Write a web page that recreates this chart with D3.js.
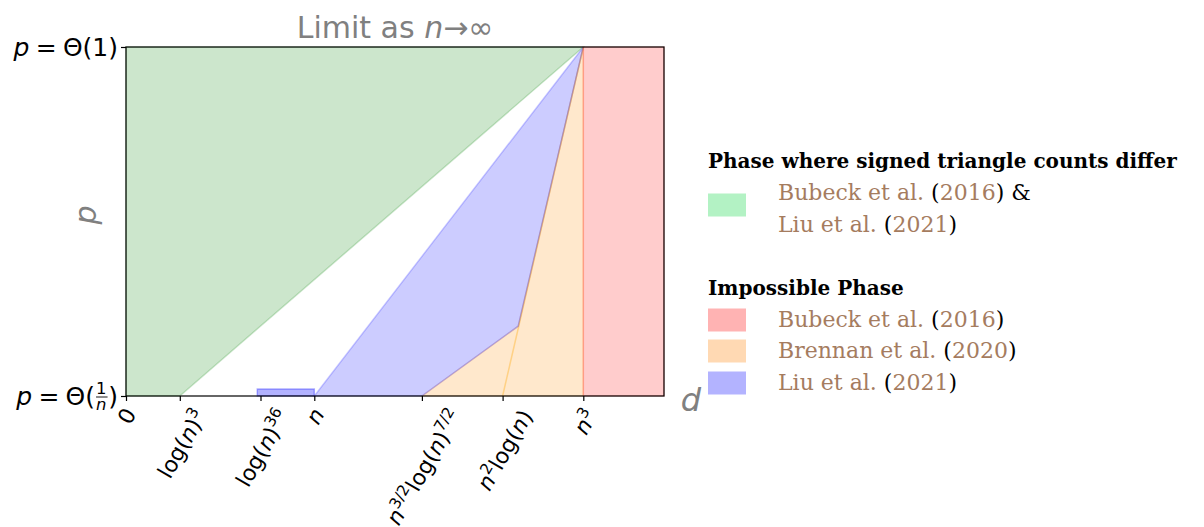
<!DOCTYPE html>
<html><head><meta charset="utf-8">
<script src="https://cdn.jsdelivr.net/npm/d3@7/dist/d3.min.js"></script>
<style>body{margin:0;background:#fff;} svg{display:block;}</style>
</head><body>
<svg id="c" width="1204" height="527"></svg>
<script>
// ---- data ----
const xTickPos = [0, 0.1, 0.25, 0.35, 0.55, 0.7, 0.85];
// tick label parts: [text, style] style: r=roman, i=italic, s=superscript
const xTickLabels = [
  [["0","r"]],
  [["log(","r"],["n","i"],[")","r"],["3","s"]],
  [["log(","r"],["n","i"],[")","r"],["36","s"]],
  [["n","i"]],
  [["n","i"],["3/2","s"],["log(","r"],["n","i"],[")","r"],["7/2","s"]],
  [["n","i"],["2","s"],["log(","r"],["n","i"],[")","r"]],
  [["n","i"],["3","s"]]
];
const yTickPos = [0, 1];
const greenRegion  = [[0,0],[0,1],[0.85,1],[0.1,0]];
const redRegion    = [[0.85,0],[0.85,1],[1,1],[1,0]];
const orangeRegion = [[0.55,0],[0.729,0.2],[0.85,1],[0.85,0]];
const orangeLine   = [[0.7,0],[0.85,1]];
const blueRegion   = [[0.35,0],[0.85,1],[0.729,0.2],[0.55,0]];
const blueStrip    = [[0.244,0],[0.244,0.02],[0.35,0.02],[0.35,0]];
const legendGroups = [
  {title:"Phase where signed triangle counts differ", entries:[
    {color:"#b3f2c4", lines:[[["Bubeck et al. ","b"],["(","k"],["2016","b"],[")","k"],[" &","k"]],[["Liu et al. ","b"],["(","k"],["2021","b"],[")","k"]]]}
  ]},
  {title:"Impossible Phase", entries:[
    {color:"#ffb3b3", lines:[[["Bubeck et al. ","b"],["(","k"],["2016","b"],[")","k"]]]},
    {color:"#ffd9b3", lines:[[["Brennan et al. ","b"],["(","k"],["2020","b"],[")","k"]]]},
    {color:"#b3b3ff", lines:[[["Liu et al. ","b"],["(","k"],["2021","b"],[")","k"]]]}
  ]}
];

// ---- layout ----
const svg = d3.select("#c");
const L = 126, R = 664, T = 47, B = 396;
const x = d3.scaleLinear().domain([0,1]).range([L,R]);
const y = d3.scaleLinear().domain([0,1]).range([B,T]);
const line = d3.line().x(d=>x(d[0])).y(d=>y(d[1]));
const poly = pts => line(pts) + "Z";

function region(pts, color, alpha){
  svg.append("path").attr("d", poly(pts)).attr("fill", color).attr("fill-opacity", alpha)
    .attr("stroke", color).attr("stroke-opacity", alpha).attr("stroke-width", 1.5);
}
region(greenRegion, "green", 0.2);
region(orangeRegion, "darkorange", 0.2);
svg.append("path").attr("d", line(orangeLine)).attr("fill","none").attr("stroke","orange").attr("stroke-opacity",0.35).attr("stroke-width",1.5);
region(blueRegion, "blue", 0.2);
region(blueStrip, "blue", 0.3);
region(redRegion, "red", 0.2);

// frame
svg.append("rect").attr("x",L).attr("y",T).attr("width",R-L).attr("height",B-T)
  .attr("fill","none").attr("stroke","#000").attr("stroke-width",1.2);

// x ticks
const xAxis = d3.axisBottom(x).tickValues(xTickPos).tickSize(5).tickFormat("");
const gx = svg.append("g").attr("transform",`translate(0,${B})`).call(xAxis);
gx.select(".domain").remove();
gx.selectAll(".tick line").attr("stroke","#000").attr("stroke-width",1.2);

const sans = "DejaVu Sans";
const tickFS = 22;
xTickPos.forEach((v,i)=>{
  const outer = svg.append("g");
  const inner = outer.append("g").attr("transform","rotate(-60)");
  const t = inner.append("text").attr("font-family",sans).attr("font-size",tickFS).attr("fill","#000")
    .attr("text-anchor","middle");
  let prevSup = false;
  xTickLabels[i].forEach(p=>{
    const ts = t.append("tspan").text(p[0]);
    if(p[1]==="i") ts.attr("font-style","italic");
    if(p[1]==="s") { ts.attr("font-size",tickFS*0.7).attr("dy",-tickFS*0.42); prevSup = true; }
    else { if(prevSup) ts.attr("dy", tickFS*0.42); prevSup = false; }
  });
  const bb = outer.node().getBBox();
  const cx = bb.x + bb.width/2;
  outer.attr("transform",`translate(${x(v)-cx+1},${B+8-bb.y})`);
});

// y ticks
const yAxis = d3.axisLeft(y).tickValues(yTickPos).tickSize(5).tickFormat("");
const gy = svg.append("g").attr("transform",`translate(${L},0)`).call(yAxis);
gy.select(".domain").remove();
gy.selectAll(".tick line").attr("stroke","#000").attr("stroke-width",1.2);

const yFS = 25;
function yLabelTop(){
  const g = svg.append("g");
  const t = g.append("text").attr("font-family",sans).attr("font-size",yFS).attr("y",yFS*0.36);
  t.append("tspan").attr("font-style","italic").text("p");
  t.append("tspan").text("\u2005=\u2005Θ(1)");
  const bb = g.node().getBBox();
  g.attr("transform",`translate(${L-8-(bb.x+bb.width)},${y(1)})`);
}
function yLabelBottom(){
  const g = svg.append("g");
  const t = g.append("text").attr("font-family",sans).attr("font-size",yFS).attr("y",yFS*0.36);
  t.append("tspan").attr("font-style","italic").text("p");
  t.append("tspan").text("\u2005=\u2005Θ(");
  const w = t.node().getComputedTextLength();
  const fs = yFS*0.66;
  g.append("text").attr("font-family",sans).attr("font-size",fs).attr("text-anchor","middle")
    .attr("x", w+fs*0.38).attr("y",-2).text("1");
  g.append("text").attr("font-family",sans).attr("font-size",fs).attr("font-style","italic").attr("text-anchor","middle")
    .attr("x", w+fs*0.38).attr("y",fs*0.85).text("n");
  g.append("line").attr("x1",w+1).attr("x2",w+fs*0.76).attr("y1",1).attr("y2",1).attr("stroke","#000").attr("stroke-width",0.9);
  g.append("text").attr("font-family",sans).attr("font-size",yFS).attr("x",w+fs*0.8).attr("y",yFS*0.36).text(")");
  const bb = g.node().getBBox();
  g.attr("transform",`translate(${L-8-(bb.x+bb.width)},${y(0)})`);
}
yLabelTop(); yLabelBottom();

// title
const title = svg.append("text").attr("x",(L+R)/2).attr("y",38).attr("text-anchor","middle")
  .attr("font-family",sans).attr("font-size",30).attr("fill","#808080");
title.append("tspan").text("Limit as ");
title.append("tspan").attr("font-style","italic").text("n");
title.append("tspan").text("→∞");

// axis labels
svg.append("text").attr("transform",`translate(96,215) rotate(-90)`).attr("text-anchor","middle")
  .attr("font-family",sans).attr("font-size",30).attr("font-style","italic").attr("fill","#808080").text("p");
svg.append("text").attr("x",691).attr("y",411).attr("text-anchor","middle")
  .attr("font-family",sans).attr("font-size",32).attr("font-style","italic").attr("fill","#808080").text("d");

// legend
const serif = "DejaVu Serif";
const brown = "#a57c5f";
const legX = 708, textX = 778;
const headFS = 20, entFS = 22;
const headYs = [168, 295];
const entryYs = [[[200,232]],[[327],[358],[390]]];
legendGroups.forEach((grp,gi)=>{
  svg.append("text").attr("x",legX).attr("y",headYs[gi]).attr("font-family",serif)
    .attr("font-weight","bold").attr("font-size",headFS).attr("fill","#000").text(grp.title);
  grp.entries.forEach((e,ei)=>{
    const ys = entryYs[gi][ei];
    const midY = ys.length>1 ? (ys[0]+ys[1])/2 - 11 : ys[0]-7;
    svg.append("rect").attr("x",legX).attr("y",midY-11.5).attr("width",38).attr("height",23).attr("fill",e.color);
    e.lines.forEach((ln,li)=>{
      const t = svg.append("text").attr("x",textX).attr("y",ys[li]).attr("font-family",serif)
        .attr("font-size",entFS);
      ln.forEach(p=>t.append("tspan").attr("fill",p[1]==="b"?brown:"#000").text(p[0]));
    });
  });
});
</script>
</body></html>
